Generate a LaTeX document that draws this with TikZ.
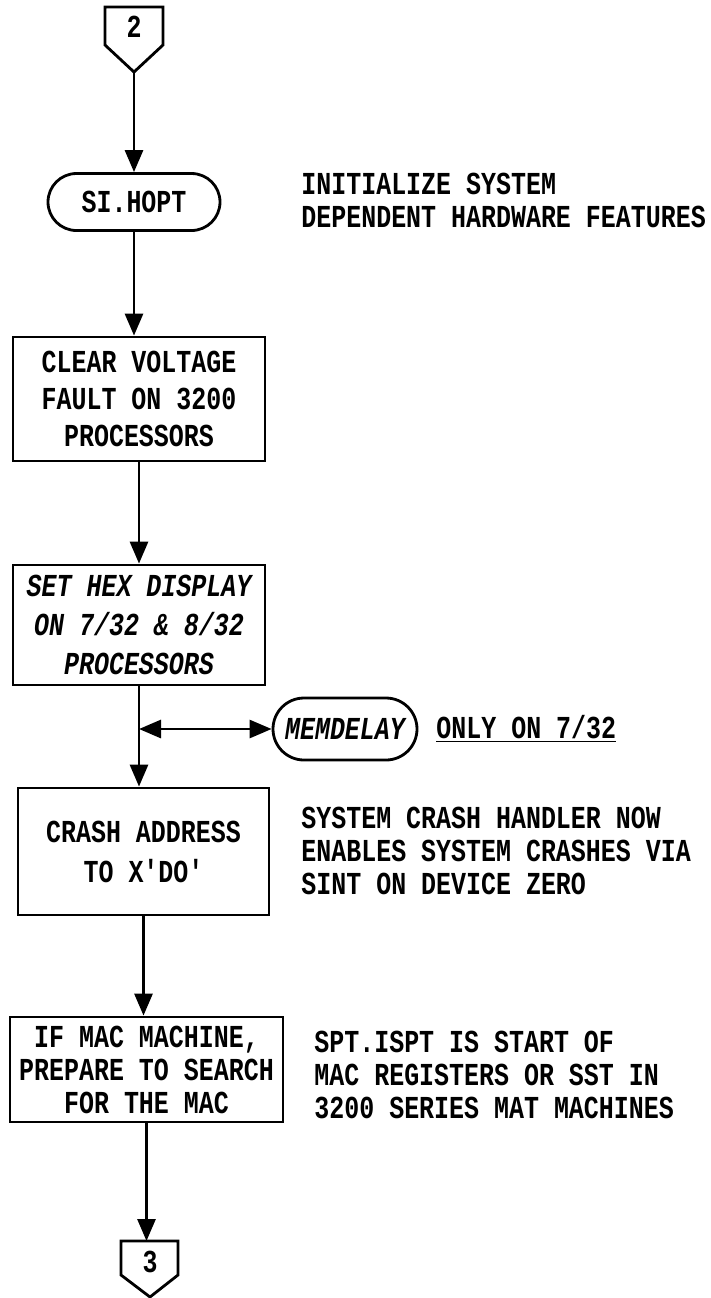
\documentclass[tikz,border=0pt]{standalone}
\usepackage{fontspec}
\newfontfamily\flowfont{Liberation Mono}[FakeStretch=0.78]
\usetikzlibrary{arrows.meta, shapes.misc}

\begin{document}
\begin{tikzpicture}[x=0.5pt, y=-0.5pt, line width=1.4pt,
  >={Triangle[length=11pt, width=9pt]},
  every node/.style={font=\flowfont\bfseries\fontsize{16}{16.5}\selectfont, inner sep=0pt},
  procbox/.style={draw, rectangle, align=center},
  term/.style={draw, rounded rectangle},
  remark/.style={anchor=west, align=left}]
  \useasboundingbox (0,0) rectangle (711,1298);

  % Entry connector
  \node (c2) at (134,27) {2};
  \draw ([shift={(-29,-20)}]c2.center) -- ++(58,0) -- ++(0,38) -- ++(-29,27) coordinate (c2tip) -- ++(-29,-27) -- cycle;

  % Terminals and boxes
  \node[term, minimum width=86pt, minimum height=28.5pt] (hopt) at (134,202) {SI.HOPT};
  \node[procbox, minimum width=126pt, minimum height=62pt,
        font=\flowfont\bfseries\fontsize{16}{18.5}\selectfont] (clr) at (139,399)
        {CLEAR VOLTAGE\\FAULT ON 3200\\PROCESSORS};
  \node[procbox, minimum width=126pt, minimum height=60pt,
        font=\flowfont\bfseries\itshape\fontsize{16}{19.5}\selectfont] (hex) at (139,625)
        {SET HEX DISPLAY\\ON 7/32 \& 8/32\\PROCESSORS};
  \node[term, minimum width=72pt, minimum height=31pt,
        font=\flowfont\bfseries\itshape\fontsize{16}{16.5}\selectfont] (mem) at (345,729) {MEMDELAY};
  \node[procbox, minimum width=125.5pt, minimum height=63.5pt,
        font=\flowfont\bfseries\fontsize{16}{20}\selectfont] (crash) at (143.5,851.5)
        {CRASH ADDRESS\\TO X'DO'};
  \node[procbox, minimum width=136.5pt, minimum height=52.5pt] (mac) at (146.5,1069.5)
        {IF MAC MACHINE,\\PREPARE TO SEARCH\\FOR THE MAC};

  % Exit connector
  \node (c3) at (150,1262) {3};
  \draw ([shift={(-29,-21)}]c3.center) -- ++(57,0) -- ++(0,34) -- ++(-28,22) -- ++(-29,-22) -- cycle;
  \coordinate (c3top) at ([shift={(0,-21)}]c3.center);

  % Remarks
  \node[remark] (nhopt) at (300,200) {INITIALIZE SYSTEM\\DEPENDENT HARDWARE FEATURES};
  \node[remark] (nmem) at (435,729) {\underline{ONLY ON 7/32}};
  \node[remark] (ncrash) at (300,851) {SYSTEM CRASH HANDLER NOW\\ENABLES SYSTEM CRASHES VIA\\SINT ON DEVICE ZERO};
  \node[remark] (nmac) at (313,1075) {SPT.ISPT IS START OF\\MAC REGISTERS OR SST IN\\3200 SERIES MAT MACHINES};

  % Flow lines
  \draw[->] (c2tip) -- (hopt.north);
  \draw[->] (hopt.south) -- (hopt.south |- clr.north);
  \draw[->] (clr.south) -- (hex.north);
  \coordinate (jmem) at (hex.south |- mem.west);
  \draw[->] (hex.south) -- (jmem) -- (jmem |- crash.north);
  \draw[<->] (jmem) -- (mem.west);
  \draw[->] (crash.south) -- (crash.south |- mac.north);
  \draw[->] (mac.south) -- (mac.south |- c3top);
\end{tikzpicture}
\end{document}
